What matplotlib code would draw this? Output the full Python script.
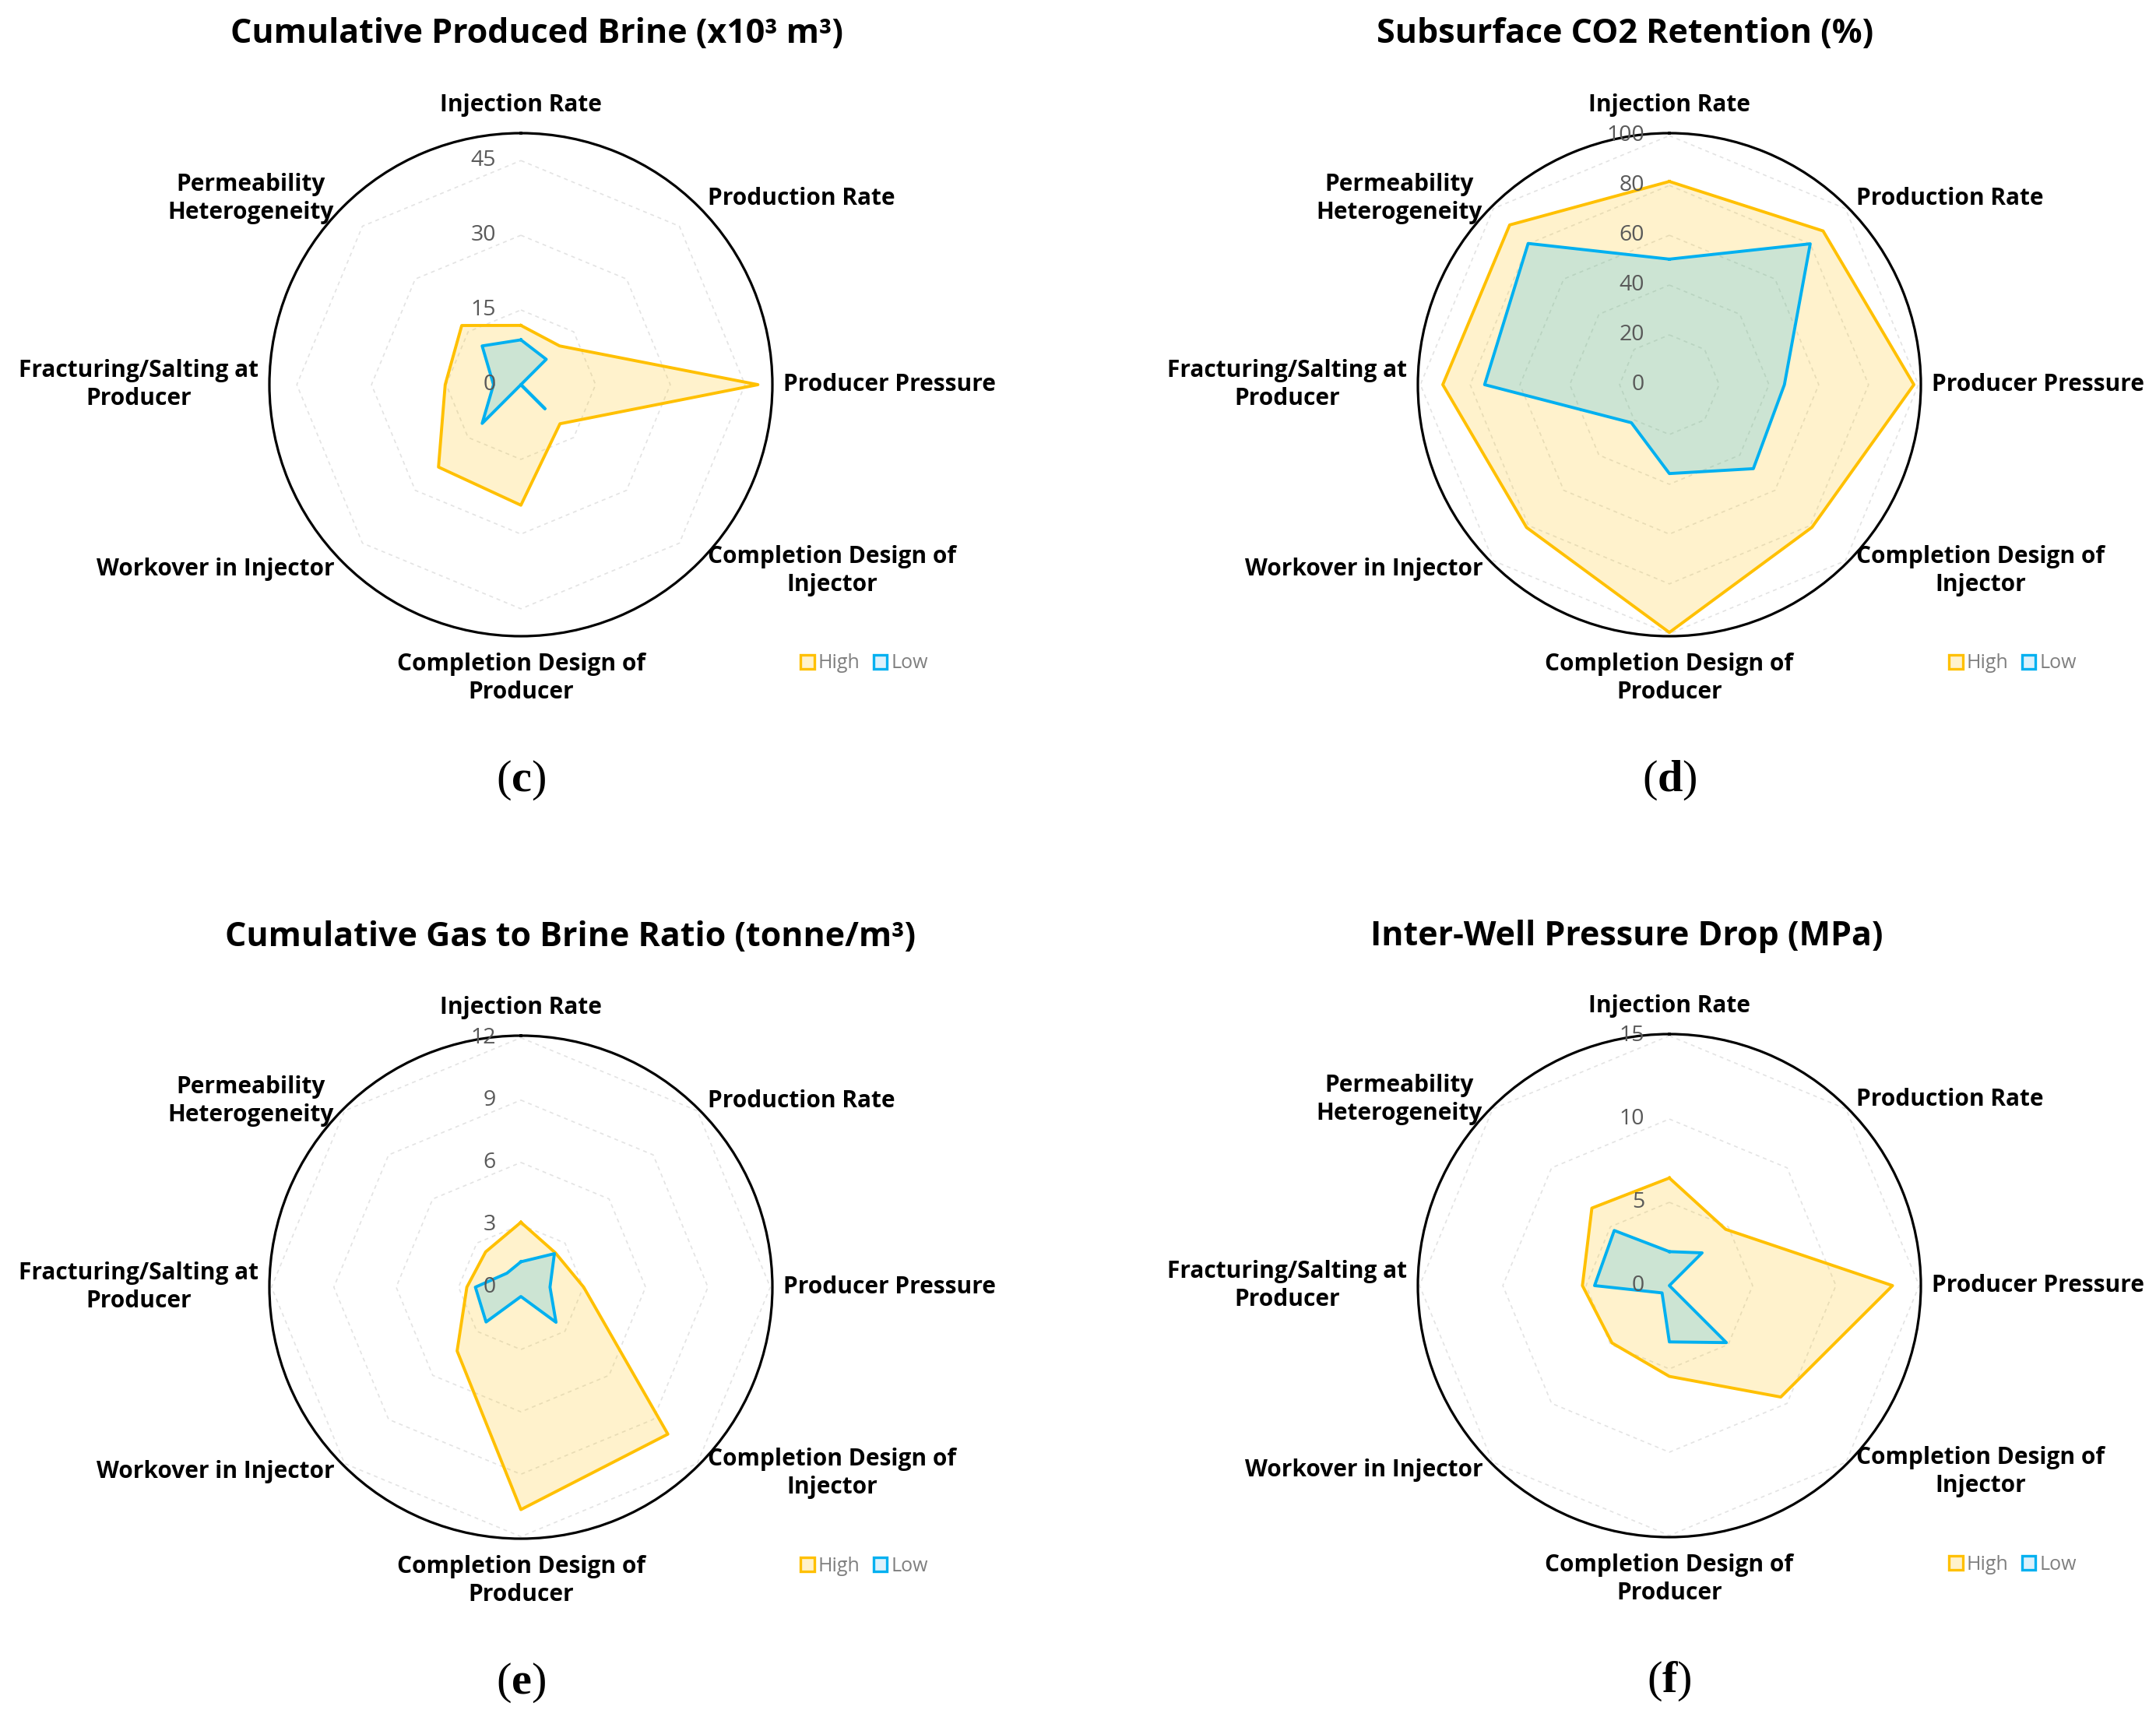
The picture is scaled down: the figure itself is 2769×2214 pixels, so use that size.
import numpy as np
import matplotlib
matplotlib.use("Agg")
import matplotlib.pyplot as plt
from matplotlib.patches import Patch

plt.rcParams["font.family"] = ["Open Sans", "DejaVu Sans"]
plt.rcParams["mathtext.fontset"] = "custom"
plt.rcParams["mathtext.rm"] = "Liberation Serif"
plt.rcParams["mathtext.bf"] = "Liberation Serif:bold"

CATEGORIES = [
    "Injection Rate",
    "Production Rate",
    "Producer Pressure",
    "Completion Design of\nInjector",
    "Completion Design of\nProducer",
    "Workover in Injector",
    "Fracturing/Salting at\nProducer",
    "Permeability\nHeterogeneity",
]
SERIES = ["High", "Low"]

# (c) Cumulative produced brine (x10^3 m3)
brine_high = [11.9, 11.0, 47.6, 11.1, 24.2, 23.4, 15.2, 16.8]
brine_low = [9.0, 7.2, 0.0, 6.8, 0.0, 11.0, 5.5, 11.0]
brine_ticks = [0, 15, 30, 45]

# (d) Subsurface CO2 retention (%)
retention_high = [81.6, 87.3, 98.2, 81.0, 99.5, 81.1, 91.0, 90.7]
retention_low = [50.4, 80.0, 46.2, 47.7, 35.7, 21.6, 74.2, 80.2]
retention_ticks = [0, 20, 40, 60, 80, 100]

# (e) Cumulative gas to brine ratio (tonne/m3)
gbr_high = [3.12, 2.34, 3.02, 10.0, 10.7, 4.34, 2.6, 2.4]
gbr_low = [1.22, 2.28, 1.4, 2.39, 0.45, 2.37, 2.19, 0.95]
gbr_ticks = [0, 3, 6, 9, 12]

# (f) Inter-well pressure drop (MPa)
dp_high = [6.46, 4.78, 13.4, 9.46, 5.45, 4.87, 5.22, 6.58]
dp_low = [2.04, 2.78, 0.0, 4.84, 3.38, 0.62, 4.49, 4.68]
dp_ticks = [0, 5, 10, 15]

HIGH_COLOR = "#FFC000"
LOW_COLOR = "#00B0F0"

# label offsets from the chart centre in pixels (dx right, dy down)
LABEL_OFFSETS = [
    (0, -359, "center"),
    (240, -239, "left"),
    (337, 0, "left"),
    (240, 239, "left"),
    (0, 377, "center"),
    (-239, 237, "right"),
    (-337, 0, "right"),
    (-240, -239, "right"),
]

FIG_W, FIG_H = 2769, 2214
RADIUS_PX = 323
PX = 0.72  # points per pixel at dpi 100


def draw_radar(fig, center, high, low, ticks, rmax):
    '''
    Draw one radar panel centred at center (pixels from top-left).
    '''
    cx, cy = center
    rect = [(cx - RADIUS_PX) / FIG_W, 1 - (cy + RADIUS_PX) / FIG_H,
            2 * RADIUS_PX / FIG_W, 2 * RADIUS_PX / FIG_H]
    ax = fig.add_axes(rect, projection="polar")
    ax.set_theta_zero_location("N")
    ax.set_theta_direction(-1)

    n = len(CATEGORIES)
    angles = np.linspace(0, 2 * np.pi, n, endpoint=False)
    closed = np.concatenate([angles, angles[:1]])

    # octagon gridlines
    for t in ticks[1:]:
        ax.plot(closed, [t] * (n + 1), color="#E3E3E3", lw=1.2,
                ls=(0, (3, 3)), zorder=1)

    for values, color in ((high, HIGH_COLOR), (low, LOW_COLOR)):
        vals = np.concatenate([values, values[:1]])
        ax.fill(closed, vals, color=color, alpha=0.2, lw=0, zorder=2)
        ax.plot(closed, vals, color=color, lw=2.8, zorder=3)

    ax.set_ylim(0, rmax)
    ax.set_xticks([])
    ax.set_yticks([])
    ax.grid(False)
    ax.spines["polar"].set_color("black")
    ax.spines["polar"].set_linewidth(2.3)

    for t in ticks:
        ax.annotate(str(t), xy=(0, t), xytext=(-32 * PX, 0),
                    textcoords="offset points", ha="right", va="center",
                    fontsize=20.5, color="#595959", zorder=4)

    for label, (dx, dy, ha) in zip(CATEGORIES, LABEL_OFFSETS):
        ax.annotate(label, xy=(0.5, 0.5), xycoords="axes fraction",
                    xytext=(dx * PX, -dy * PX), textcoords="offset points",
                    ha=ha, va="center", multialignment="center",
                    fontsize=21.5, fontweight="bold", color="black",
                    linespacing=1.3, annotation_clip=False)

    handles = [
        Patch(facecolor="#FFF2CC", edgecolor=HIGH_COLOR, lw=2.4, label=SERIES[0]),
        Patch(facecolor="#DDF1FB", edgecolor=LOW_COLOR, lw=2.4, label=SERIES[1]),
    ]
    leg = ax.legend(handles=handles, loc="center left",
                    bbox_to_anchor=(0.5 + 359 / (2 * RADIUS_PX),
                                    0.5 - 358 / (2 * RADIUS_PX)),
                    ncol=2, frameon=False, fontsize=18,
                    handlelength=0.7, handleheight=0.7, handletextpad=0.2,
                    columnspacing=0.7, borderpad=0, borderaxespad=0)
    for text in leg.get_texts():
        text.set_color("#7F7F7F")
    return ax


def main():
    fig = plt.figure(figsize=(FIG_W / 100, FIG_H / 100), dpi=100)

    panels = [
        ((669, 494), brine_high, brine_low, brine_ticks, 50.5,
         "Cumulative Produced Brine (x10³ m³)", (689, 44), "c"),
        ((2144, 494), retention_high, retention_low, retention_ticks, 101,
         "Subsurface CO2 Retention (%)", (2087, 44), "d"),
        ((669, 1653), gbr_high, gbr_low, gbr_ticks, 12.1,
         "Cumulative Gas to Brine Ratio (tonne/m³)", (733, 1203), "e"),
        ((2144, 1651), dp_high, dp_low, dp_ticks, 15.1,
         "Inter-Well Pressure Drop (MPa)", (2089, 1203), "f"),
    ]

    for center, high, low, ticks, rmax, title, title_pos, letter in panels:
        draw_radar(fig, center, high, low, ticks, rmax)
        fig.text(title_pos[0] / FIG_W, 1 - title_pos[1] / FIG_H, title,
                 ha="center", va="center", fontsize=31, fontweight="bold")
        fig.text(center[0] / FIG_W, 1 - (center[1] + 508) / FIG_H,
                 "(" + r"$\mathbf{" + letter + "}$" + ")",
                 ha="center", va="center", fontsize=42,
                 family="Liberation Serif")

    fig.savefig("out.png", dpi=100)


if __name__ == "__main__":
    main()
